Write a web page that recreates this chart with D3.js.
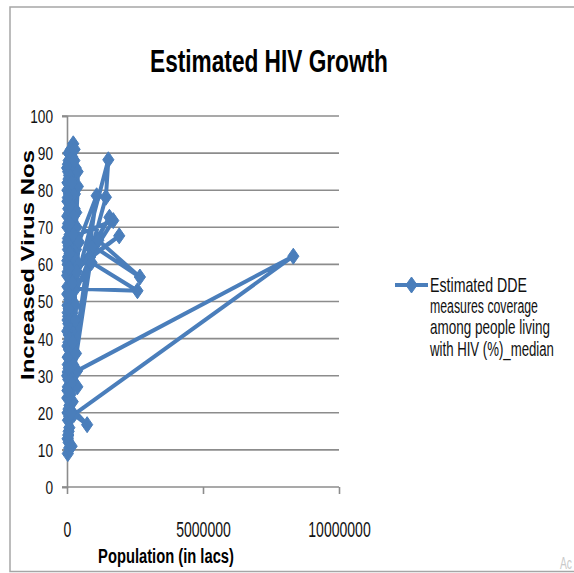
<!DOCTYPE html>
<html>
<head>
<meta charset="utf-8">
<script src="https://cdn.jsdelivr.net/npm/d3@7"></script>
<style>
  body { margin: 0; background: #fff; }
  svg { display: block; }
</style>
</head>
<body>
<svg id="chart" width="574" height="573"></svg>
<script>
// Population per record, in plotting order
const population = [
  40000, 150000, 20000, 90000, 30000, 230000, 60000, 110000, 15000, 180000,
  50000, 1090000, 120000, 25000, 70000, 1520000, 1430000, 900000, 1560000, 140000,
  35000, 1700000, 850000, 1920000, 200000, 45000, 100000, 10000, 250000, 65000,
  130000, 20000, 950000, 2680000, 1150000, 160000, 800000, 2590000, 90000, 40000,
  170000, 55000, 80000, 900000, 120000, 30000, 75000, 120000, 25000, 60000,
  140000, 370000, 8320000, 250000, 740000, 90000, 30000, 80000, 20000, 110000,
  380000, 50000, 15000, 200000, 40000, 100000, 70000, 15000, 150000, 35000,
  85000, 10000, 190000, 45000, 120000, 25000, 65000, 170000, 30000, 95000,
  20000, 140000, 55000, 10000, 75000, 280000, 40000, 115000, 15000, 60000,
  35000, 160000, 210000, 5000, 330000, 60000, 180000, 25000, 290000, 70000,
  140000, 10000, 260000, 45000, 350000, 80000, 200000, 30000, 310000, 55000,
  150000, 20000, 400000, 90000, 240000, 15000, 320000, 100000, 170000, 40000,
  270000, 65000, 220000, 5000, 340000, 130000, 190000, 50000, 300000, 85000,
  230000, 25000, 420000, 75000, 160000, 10000, 280000, 110000, 360000, 35000,
  210000, 95000, 5000, 250000, 60000, 390000, 145000, 20000, 300000, 125000,
  45000, 230000, 330000, 70000, 180000, 15000, 270000, 105000, 440000, 55000,
  195000, 30000
];
// Estimated DDE measures coverage (%) median, same order
const coverage = [
  62, 84, 45, 71, 33, 92.5, 57, 80, 38, 76,
  24, 78.5, 60, 86, 48, 88.2, 78.1, 64, 72.7, 55,
  67, 71.8, 62, 67.7, 58, 29, 74, 52, 83, 41,
  69, 20, 65, 56.6, 66.5, 50, 61, 52.9, 53.5, 77,
  36, 65, 50.5, 60.5, 51, 82, 43, 89.5, 31, 88,
  34, 31.3, 62.2, 19.5, 16.8, 22, 9, 10.5, 13, 26,
  27, 39, 70, 47, 85, 30, 79, 54, 66, 18,
  44, 73, 81, 35, 63, 58, 90, 42, 27, 68,
  49, 87, 21, 61, 37, 75, 46, 56, 80, 15,
  64, 72, 23, 86, 64, 12, 88, 47, 79, 30,
  91, 42, 57, 75, 70, 19, 85, 60, 49, 83,
  28, 66, 81, 37, 62, 77, 86, 40, 11, 71,
  53, 90, 33, 57, 74, 25, 89, 44, 67, 16,
  79, 35, 60, 84, 46, 24, 91, 52, 58, 87,
  39, 63, 30, 73, 48, 85, 20, 82, 45, 76,
  14, 68, 36, 59, 82, 26, 88, 71, 66, 32,
  55, 78
];

const yTicks = [0, 10, 20, 30, 40, 50, 60, 70, 80, 90, 100];
const xTicks = [0, 5000000, 10000000];
const chartTitle = "Estimated HIV Growth";
const xTitle = "Population (in lacs)";
const yTitle = "Increased Virus Nos";
const legendLines = ["Estimated DDE", "measures coverage", "among people living", "with HIV (%)_median"];

const blue = "#4a7ebb";
const gridColor = "#8c8c8c";
const narrow = "'Liberation Sans Narrow', 'Liberation Sans', Arial, sans-serif";
const wide = "'Liberation Sans', Arial, sans-serif";

const svg = d3.select("#chart");

// squeeze a text node horizontally to a given width, keeping its anchor point
function fitWidth(node, tx, ty, width, pre) {
  const w = node.getComputedTextLength();
  const s = w > 0 ? width / w : 1;
  d3.select(node)
    .attr("x", 0).attr("y", 0)
    .attr("transform", `translate(${tx},${ty})${pre || ""} scale(${s},1)`);
}

// outer chart border
svg.append("rect")
  .attr("x", 10).attr("y", 7).attr("width", 600).attr("height", 564.5)
  .attr("fill", "none").attr("stroke", "#a6a6a6").attr("stroke-width", 1.5);

const x = d3.scaleLinear().domain([0, 10000000]).range([67, 339]);
const y = d3.scaleLinear().domain([0, 100]).range([487, 116]);

// horizontal gridlines
svg.append("g").selectAll("line")
  .data(yTicks.filter(d => d > 0))
  .join("line")
  .attr("x1", 62).attr("x2", x.range()[1])
  .attr("y1", d => y(d)).attr("y2", d => y(d))
  .attr("stroke", gridColor).attr("stroke-width", 1.6);

// y axis
const yAxis = svg.append("g")
  .attr("transform", `translate(${x(0)},0)`)
  .call(d3.axisLeft(y).tickValues(yTicks).tickSize(5).tickFormat(d3.format("d")));
yAxis.select(".domain").attr("stroke", gridColor).attr("stroke-width", 1.6);
yAxis.selectAll(".tick line").attr("stroke", gridColor).attr("stroke-width", 1.6);
yAxis.selectAll(".tick text")
  .attr("font-family", narrow).attr("font-size", 18).attr("fill", "#111")
  .attr("dy", "0.36em")
  .each(function () { fitWidth(this, -14, 0, this.textContent.length * 7.6); });

// x axis
const xAxis = svg.append("g")
  .attr("transform", `translate(0,${y(0)})`)
  .call(d3.axisBottom(x).tickValues(xTicks).tickSize(7).tickFormat(d3.format("d")));
xAxis.select(".domain").attr("d", `M62,0H${x.range()[1]}`).attr("stroke", gridColor).attr("stroke-width", 1.6);
xAxis.selectAll(".tick line").attr("stroke", gridColor).attr("stroke-width", 1.6);
xAxis.selectAll(".tick text")
  .attr("font-family", narrow).attr("font-size", 22).attr("fill", "#111")
  .attr("dy", null)
  .each(function () { fitWidth(this, 0, 50, this.textContent.length * 7.8); });

// series line, drawn in data order
const points = population.map((p, i) => ({ p, c: coverage[i] }));
svg.append("path")
  .datum(points)
  .attr("fill", "none")
  .attr("stroke", blue)
  .attr("stroke-width", 4)
  .attr("stroke-linejoin", "round")
  .attr("d", d3.line().x(d => x(d.p)).y(d => y(d.c)));

// diamond markers
const diamond = "M0,-8L5.6,0L0,8L-5.6,0Z";
svg.append("g").selectAll("path")
  .data(points)
  .join("path")
  .attr("d", diamond)
  .attr("transform", d => `translate(${x(d.p)},${y(d.c)})`)
  .attr("fill", blue).attr("stroke", blue).attr("stroke-width", 1);

// title
svg.append("text")
  .attr("text-anchor", "middle")
  .attr("font-family", narrow).attr("font-weight", "bold").attr("font-size", 31)
  .attr("fill", "#000")
  .text(chartTitle)
  .each(function () { fitWidth(this, 269, 72, 238); });

// axis titles
svg.append("text")
  .attr("text-anchor", "middle")
  .attr("font-family", narrow).attr("font-weight", "bold").attr("font-size", 21)
  .attr("fill", "#000")
  .text(xTitle)
  .each(function () { fitWidth(this, 166, 563, 136); });

svg.append("text")
  .attr("text-anchor", "middle")
  .attr("font-family", wide).attr("font-weight", "bold").attr("font-size", 18)
  .attr("fill", "#000")
  .text(yTitle)
  .each(function () { fitWidth(this, 34, 265, 230, " rotate(-90)"); });

// legend
const legend = svg.append("g");
legend.append("line")
  .attr("x1", 395).attr("x2", 428).attr("y1", 285).attr("y2", 285)
  .attr("stroke", blue).attr("stroke-width", 4);
legend.append("path")
  .attr("d", diamond)
  .attr("transform", "translate(411.5,285)")
  .attr("fill", blue).attr("stroke", blue);
const legendWidths = [97, 108, 120, 124];
legend.selectAll("text")
  .data(legendLines)
  .join("text")
  .attr("font-family", narrow).attr("font-size", 20).attr("fill", "#111")
  .text(d => d)
  .each(function (d, i) { fitWidth(this, 430, 292 + i * 21.2, legendWidths[i]); });

// faint system watermark in the corner
svg.append("text")
  .attr("font-family", narrow).attr("font-size", 16).attr("fill", "#c9c9c9")
  .text("Ac")
  .each(function () { fitWidth(this, 560, 569, 12); });
</script>
</body>
</html>
